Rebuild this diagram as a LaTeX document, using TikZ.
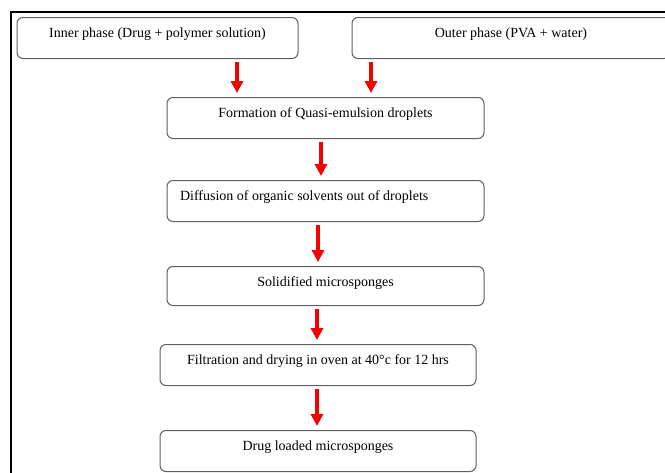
\documentclass[tikz,border=0pt]{standalone}
\usepackage{fontspec}
\setmainfont{Liberation Serif}
\usepackage{tikz}
\usetikzlibrary{arrows.meta}
\usepackage{xcolor}
\definecolor{boxline}{RGB}{95,95,95}
\definecolor{flowred}{RGB}{245,0,0}

\tikzset{
  stepbox/.style = {draw = boxline, line width = 1pt, rounded corners = 6pt,
                    anchor = north, inner xsep = 0pt, inner ysep = 0pt,
                    text height = 20pt, text depth = 21pt,
                    font = \fontsize{14}{16}\selectfont},
  flow/.style = {draw = flowred, line width = 4pt,
                 -{Triangle[width = 12pt, length = 12pt]},
                 shorten < = 3pt, shorten > = 4pt}
}

\begin{document}
\begin{tikzpicture}[x = 1pt, y = -1pt]
            \useasboundingbox (0,0) rectangle (665,472);
            \clip (0,0) rectangle (665,472);
            % frame
            \draw[line width = 2pt] (11,480) -- (11,11.5) -- (680,11.5);
            % boxes
            \node[stepbox, minimum width = 281pt] (inner) at (157.5,17)
              {Inner phase (Drug + polymer solution)};
            \node[stepbox, minimum width = 318pt] (outer) at (511,17)
              {Outer phase (PVA + water)};
            \node[stepbox, minimum width = 317pt] (form) at (325.5,97)
              {Formation of Quasi-emulsion droplets};
            \node[stepbox, inner xsep = 13pt] (diff) at (325.5,180)
              {\makebox[291pt][l]{Diffusion of organic solvents out of droplets}};
            \node[stepbox, minimum width = 317pt, text depth = 19pt] (solid) at (325.5,266)
              {Solidified microsponges};
            \node[stepbox, minimum width = 316pt] (filt) at (318,344)
              {Filtration and drying in oven at 40°c for 12 hrs};
            \node[stepbox, minimum width = 316pt] (drug) at (318,430)
              {Drug loaded microsponges};
            % arrows
            \draw[flow] ([xshift = 79.5pt]inner.south) -- ([xshift = 79.5pt]inner.south |- form.north);
            \draw[flow] ([xshift = -140pt]outer.south) -- ([xshift = -140pt]outer.south |- form.north);
            \draw[flow] ([xshift = -4.5pt]form.south) -- ([xshift = -4.5pt]form.south |- diff.north);
            \draw[flow] ([xshift = -7.5pt]diff.south) -- ([xshift = -7.5pt]diff.south |- solid.north);
            \draw[flow] ([xshift = -8.5pt]solid.south) -- ([xshift = -8.5pt]solid.south |- filt.north);
            \draw[flow] ([xshift = -1pt]filt.south) -- ([xshift = -1pt]filt.south |- drug.north);
        \end{tikzpicture}
\end{document}
